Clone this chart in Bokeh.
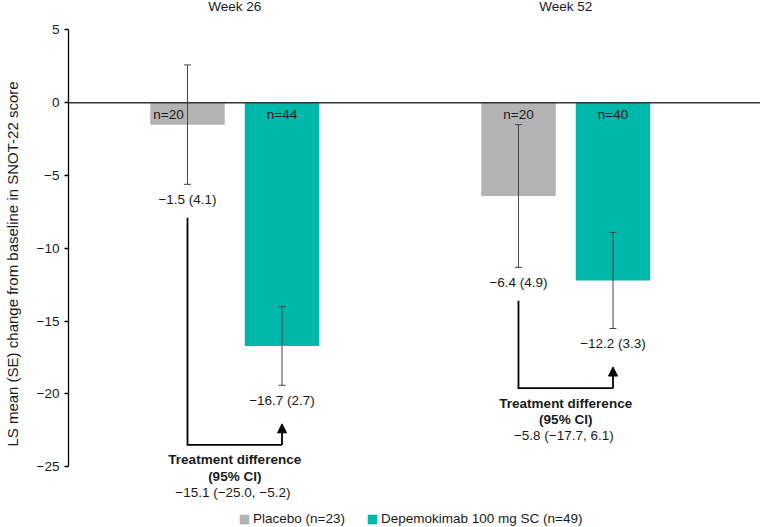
from bokeh.plotting import figure
from bokeh.models import (ColumnDataSource, Range1d, FixedTicker, Span, Whisker,
                          TeeHead, Arrow, NormalHead)
from bokeh.core.properties import value
from bokeh.embed import file_html
from bokeh.resources import INLINE

# ---- data -------------------------------------------------------------
weeks = ["Week 26", "Week 52"]
group_labels = ["Placebo (n=23)", "Depemokimab 100 mg SC (n=49)"]

placebo_mean = [-1.5, -6.4]
placebo_se = [4.1, 4.9]
placebo_n = [20, 20]

depe_mean = [-16.7, -12.2]
depe_se = [2.7, 3.3]
depe_n = [44, 40]

diff_est = [-15.1, -5.8]
diff_lo = [-25.0, -17.7]
diff_hi = [-5.2, 6.1]

y_ticks = [5, 0, -5, -10, -15, -20, -25]

# ---- styling ----------------------------------------------------------
FONT = "Liberation Sans"
FS = "13.5px"
GREY = "#B3B3B3"
TEAL = "#00B8AA"
TXT = "#1a1a1a"


def minus(s):
    return s.replace("-", "\u2212")


week_x = [1.0, 2.0]          # centre of each week group
dodge = 0.1428               # bar offset from group centre
bar_w = 0.225

p_x = [w - dodge for w in week_x]
d_x = [w + dodge for w in week_x]

p = figure(width=760, height=527, output_backend="svg", toolbar_location=None,
           x_range=Range1d(0.4977, 2.5884), y_range=Range1d(-29.17, 7.026),
           x_axis_location=None, min_border_left=68, min_border_right=0,
           min_border_top=0, min_border_bottom=0)
p.outline_line_color = None
p.xgrid.visible = False
p.ygrid.visible = False
p.background_fill_color = "white"
p.border_fill_color = "white"

# ---- bars -------------------------------------------------------------
p.vbar(x=p_x, top=placebo_mean, bottom=0, width=bar_w, fill_color=GREY,
       line_color=None, legend_label=group_labels[0])
p.vbar(x=d_x, top=depe_mean, bottom=0, width=bar_w, fill_color=TEAL,
       line_color=None, legend_label=group_labels[1])

# zero reference line
p.add_layout(Span(location=0, dimension="width", line_color="#333333",
                  line_width=1.5))

# ---- error bars (mean ± SE) --------------------------------------------
all_x = p_x + d_x
all_mean = placebo_mean + depe_mean
all_se = placebo_se + depe_se
err_src = ColumnDataSource(dict(
    x=all_x,
    upper=[m + s for m, s in zip(all_mean, all_se)],
    lower=[m - s for m, s in zip(all_mean, all_se)],
))
p.add_layout(Whisker(source=err_src, base="x", upper="upper", lower="lower",
                     level="overlay", line_color="#444444", line_width=1,
                     upper_head=TeeHead(size=7, line_color="#444444", line_width=1),
                     lower_head=TeeHead(size=7, line_color="#444444", line_width=1)))

# value labels below the lower whisker
val_src = ColumnDataSource(dict(
    x=all_x,
    y=[m - s for m, s in zip(all_mean, all_se)],
    text=[minus(f"{m:.1f} ({s:.1f})") for m, s in zip(all_mean, all_se)],
))
p.text(x="x", y="y", text="text", source=val_src, y_offset=15,
       text_align="center", text_baseline="middle", text_font=value(FONT),
       text_font_size=FS, text_color=TXT)

# n labels near the top of each bar; nudge left where the whisker crosses it
all_n = placebo_n + depe_n
n_shift = [-19 if m + s > 0 else 0 for m, s in zip(all_mean, all_se)]
n_src = ColumnDataSource(dict(x=all_x, y=[0] * len(all_x),
                              text=[f"n={n}" for n in all_n], dx=n_shift))
p.text(x="x", y="y", text="text", source=n_src, x_offset="dx", y_offset=12,
       text_align="center", text_baseline="middle", text_font=value(FONT),
       text_font_size=FS, text_color=TXT)

# ---- treatment-difference brackets -------------------------------------
start_y = [m - s - 2.3 for m, s in zip(placebo_mean, placebo_se)]
bottom_y = [m - s - 4.1 for m, s in zip(depe_mean, depe_se)]
tip_y = [b + 1.45 for b in bottom_y]

p.multi_line(xs=[[a, a, b] for a, b in zip(p_x, d_x)],
             ys=[[s, b, b] for s, b in zip(start_y, bottom_y)],
             line_color="black", line_width=1.8, line_join="miter")
arr_src = ColumnDataSource(dict(x=d_x, y0=bottom_y, y1=tip_y))
p.add_layout(Arrow(source=arr_src, x_start="x", y_start="y0", x_end="x", y_end="y1",
                   line_color="black", line_width=1.8,
                   end=NormalHead(size=9, fill_color="black", line_color="black",
                                  line_width=1)))

mid_x = [(a + b) / 2 for a, b in zip(p_x, d_x)]
p.text(x=mid_x, y=bottom_y, text=["Treatment difference"] * 2, y_offset=15,
       text_align="center", text_baseline="middle", text_font=value(FONT),
       text_font_size=FS, text_font_style="bold", text_color=TXT)
p.text(x=mid_x, y=bottom_y, text=["(95% CI)"] * 2, y_offset=31.5,
       text_align="center", text_baseline="middle", text_font=value(FONT),
       text_font_size=FS, text_font_style="bold", text_color=TXT)
p.text(x=mid_x, y=bottom_y,
       text=[minus(f"{e:.1f}  ({lo:.1f}, {hi:.1f})")
             for e, lo, hi in zip(diff_est, diff_lo, diff_hi)],
       y_offset=47.5, text_align="center", text_baseline="middle",
       text_font=value(FONT), text_font_size=FS, text_color=TXT)

# week headings
p.text(x=week_x, y=[p.y_range.end] * 2, text=weeks, y_offset=6,
       text_align="center", text_baseline="middle", text_font=value(FONT),
       text_font_size=FS, text_color=TXT)

# ---- y axis -----------------------------------------------------------
ax = p.yaxis[0]
ax.bounds = (-25, 5)
ax.ticker = FixedTicker(ticks=y_ticks)
ax.major_label_overrides = {t: minus(str(t)) for t in y_ticks}
ax.axis_label = "LS mean (SE) change from baseline in SNOT-22 score"
ax.axis_label_text_font = FONT
ax.axis_label_text_font_size = "15px"
ax.axis_label_text_font_style = "normal"
ax.axis_label_text_color = TXT
ax.axis_label_standoff = 13
ax.major_label_text_font = FONT
ax.major_label_text_font_size = FS
ax.major_label_text_color = TXT
ax.major_label_standoff = 5
ax.axis_line_color = "black"
ax.axis_line_width = 1.3
ax.major_tick_line_color = "black"
ax.major_tick_line_width = 1.3
ax.major_tick_out = 4
ax.major_tick_in = 0
ax.minor_tick_line_color = None

# ---- legend -----------------------------------------------------------
lg = p.legend[0]
lg.orientation = "horizontal"
lg.location = (170, 1)
lg.margin = 0
lg.padding = 0
lg.border_line_color = None
lg.background_fill_alpha = 0
lg.glyph_width = 12
lg.glyph_height = 12
lg.label_standoff = 3
lg.spacing = 21
lg.label_text_font = FONT
lg.label_text_font_size = FS
lg.label_text_color = TXT
lg.label_height = 12

open("out.html", "w").write(file_html(p, INLINE))
